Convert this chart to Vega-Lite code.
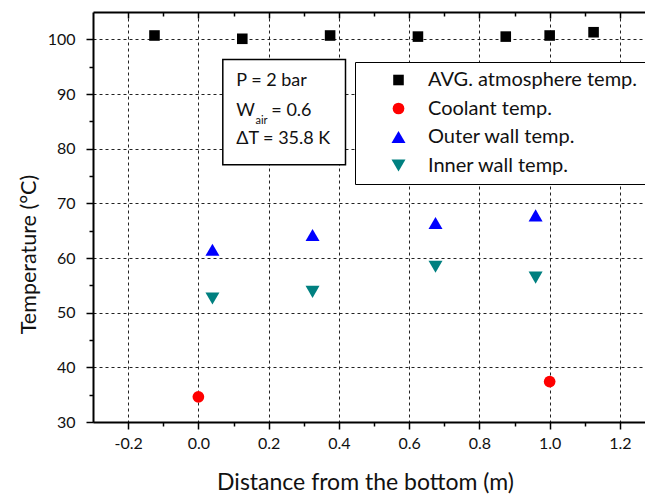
{
  "$schema": "https://vega.github.io/schema/vega-lite/v6.json",
  "autosize": {"type": "none"},
  "width": 552,
  "height": 410,
  "padding": {"left": 93, "top": 12, "right": 0, "bottom": 73},
  "background": "white",
  "config": {
    "view": {"stroke": null},
    "font": "Lato",
    "axis": {
      "labelFont": "Lato", "titleFont": "Lato", "labelColor": "#111", "titleColor": "#111",
      "domainColor": "#000", "domainWidth": 2, "tickColor": "#000", "tickWidth": 1.5,
      "gridColor": "#222", "gridDash": [3, 3], "gridWidth": 1,
      "labelFontSize": 16, "titleFontSize": 23, "titleFontWeight": "normal"
    }
  },
  "datasets": {
    "pts": [
      {"series": "AVG. atmosphere temp.", "x": -0.125, "y": 100.7},
      {"series": "AVG. atmosphere temp.", "x": 0.125, "y": 100.1},
      {"series": "AVG. atmosphere temp.", "x": 0.375, "y": 100.7},
      {"series": "AVG. atmosphere temp.", "x": 0.625, "y": 100.5},
      {"series": "AVG. atmosphere temp.", "x": 0.875, "y": 100.5},
      {"series": "AVG. atmosphere temp.", "x": 1.0, "y": 100.7},
      {"series": "AVG. atmosphere temp.", "x": 1.125, "y": 101.3},
      {"series": "Coolant temp.", "x": 0.0, "y": 34.6},
      {"series": "Coolant temp.", "x": 1.0, "y": 37.4},
      {"series": "Outer wall temp.", "x": 0.04, "y": 61.5},
      {"series": "Outer wall temp.", "x": 0.325, "y": 64.2},
      {"series": "Outer wall temp.", "x": 0.675, "y": 66.4},
      {"series": "Outer wall temp.", "x": 0.96, "y": 67.8},
      {"series": "Inner wall temp.", "x": 0.04, "y": 52.6},
      {"series": "Inner wall temp.", "x": 0.325, "y": 53.8},
      {"series": "Inner wall temp.", "x": 0.675, "y": 58.4},
      {"series": "Inner wall temp.", "x": 0.96, "y": 56.4}
    ]
  },
  "resolve": {"axis": {"x": "independent", "y": "independent"}},
  "layer": [
    {
      "data": {"values": [{"k": "box"}]},
      "mark": {"type": "rect", "fill": "white", "stroke": "#000", "strokeWidth": 1.5},
      "encoding": {
        "x": {"datum": 0.0695, "type": "quantitative",
          "scale": {"domain": [-0.3, 1.2714], "nice": false, "zero": false},
          "axis": {"orient": "top", "values": [-0.2,-0.1,0,0.1,0.2,0.3,0.4,0.5,0.6,0.7,0.8,0.9,1,1.1,1.2],
            "labels": false, "grid": false, "title": null,
            "tickSize": {"condition": {"test": "round(datum.value*10) % 2 != 0", "value": -4}, "value": -6}}},
        "x2": {"datum": 0.4188},
        "y": {"datum": 96.32, "type": "quantitative",
          "scale": {"domain": [30, 105], "nice": false, "zero": false}, "axis": null},
        "y2": {"datum": 77.07}
      }
    },
    {
      "data": {"name": "pts"},
      "mark": {"type": "point", "filled": true, "opacity": 1},
      "encoding": {
        "x": {"field": "x", "type": "quantitative",
          "axis": {"orient": "bottom", "values": [-0.2,-0.1,0,0.1,0.2,0.3,0.4,0.5,0.6,0.7,0.8,0.9,1,1.1,1.2],
            "title": "Distance from the bottom (m)",
            "labelExpr": "round(datum.value*10) % 2 != 0 ? '' : (datum.value < 0 ? '-' : '') + format(abs(datum.value), '.1f')",
            "grid": true,
            "gridOpacity": {"condition": {"test": "round(datum.value*10) % 2 != 0", "value": 0}, "value": 1},
            "tickSize": {"condition": {"test": "round(datum.value*10) % 2 != 0", "value": 4}, "value": 7},
            "labelPadding": 6,
            "titleX": 272, "titleY": 67, "titleBaseline": "alphabetic", "titleAnchor": "middle", "titleAlign": "center"}},
        "y": {"field": "y", "type": "quantitative",
          "axis": {"orient": "left", "values": [30,35,40,45,50,55,60,65,70,75,80,85,90,95,100],
            "title": "Temperature (°C)", "titleFontSize": 21.5,
            "labelExpr": "datum.value % 10 != 0 ? '' : format(datum.value, 'd')",
            "grid": true,
            "gridOpacity": {"condition": {"test": "datum.value % 10 != 0", "value": 0}, "value": 1},
            "tickSize": {"condition": {"test": "datum.value % 10 != 0", "value": 4}, "value": 7},
            "labelPadding": 11,
            "titleX": -58, "titleY": 242, "titleBaseline": "alphabetic", "titleAngle": -90, "titleAlign": "center"}},
        "color": {"field": "series", "type": "nominal", "title": null,
          "scale": {"domain": ["AVG. atmosphere temp.", "Coolant temp.", "Outer wall temp.", "Inner wall temp."],
            "range": ["#000000", "#ff0000", "#0000ff", "#008080"]},
          "legend": {"orient": "none", "legendX": 262, "legendY": 50, "strokeColor": "#000", "fillColor": "white",
            "padding": 8, "rowPadding": 8.5, "labelFontSize": 20, "labelFont": "Lato", "labelColor": "#111", "labelLimit": 0,
            "symbolOffset": 25.5, "labelOffset": 19.5, "symbolStrokeWidth": 0, "symbolOpacity": 1}},
        "shape": {"field": "series", "type": "nominal", "title": null,
          "scale": {"domain": ["AVG. atmosphere temp.", "Coolant temp.", "Outer wall temp.", "Inner wall temp."],
            "range": ["square", "circle", "triangle-up", "triangle-down"]}},
        "size": {"field": "series", "type": "nominal", "title": null,
          "scale": {"type": "ordinal", "domain": ["AVG. atmosphere temp.", "Coolant temp.", "Outer wall temp.", "Inner wall temp."],
            "range": [112, 137, 196, 196]}}
      }
    },
    {
      "data": {"values": [{"t": "P = 2 bar"}]},
      "mark": {"type": "text", "align": "left", "baseline": "middle", "fontSize": 18, "font": "Lato", "color": "#111"},
      "encoding": {"x": {"datum": 0.1077, "type": "quantitative", "axis": null}, "y": {"datum": 92.31, "type": "quantitative", "axis": null}, "text": {"field": "t"}}
    },
    {
      "data": {"values": [{"t": "W"}]},
      "mark": {"type": "text", "align": "left", "baseline": "middle", "fontSize": 18, "font": "Lato", "color": "#111"},
      "encoding": {"x": {"datum": 0.1077, "type": "quantitative", "axis": null}, "y": {"datum": 86.93, "type": "quantitative", "axis": null}, "text": {"field": "t"}}
    },
    {
      "data": {"values": [{"t": "air"}]},
      "mark": {"type": "text", "align": "left", "baseline": "alphabetic", "fontSize": 11, "font": "Lato", "color": "#111"},
      "encoding": {"x": {"datum": 0.1624, "type": "quantitative", "axis": null}, "y": {"datum": 84.59, "type": "quantitative", "axis": null}, "text": {"field": "t"}}
    },
    {
      "data": {"values": [{"t": "= 0.6"}]},
      "mark": {"type": "text", "align": "left", "baseline": "middle", "fontSize": 18, "font": "Lato", "color": "#111"},
      "encoding": {"x": {"datum": 0.2077, "type": "quantitative", "axis": null}, "y": {"datum": 86.93, "type": "quantitative", "axis": null}, "text": {"field": "t"}}
    },
    {
      "data": {"values": [{"t": "ΔT = 35.8 K"}]},
      "mark": {"type": "text", "align": "left", "baseline": "middle", "fontSize": 18, "font": "Lato", "color": "#111"},
      "encoding": {"x": {"datum": 0.1077, "type": "quantitative", "axis": null}, "y": {"datum": 81.70, "type": "quantitative", "axis": null}, "text": {"field": "t"}}
    }
  ]
}
